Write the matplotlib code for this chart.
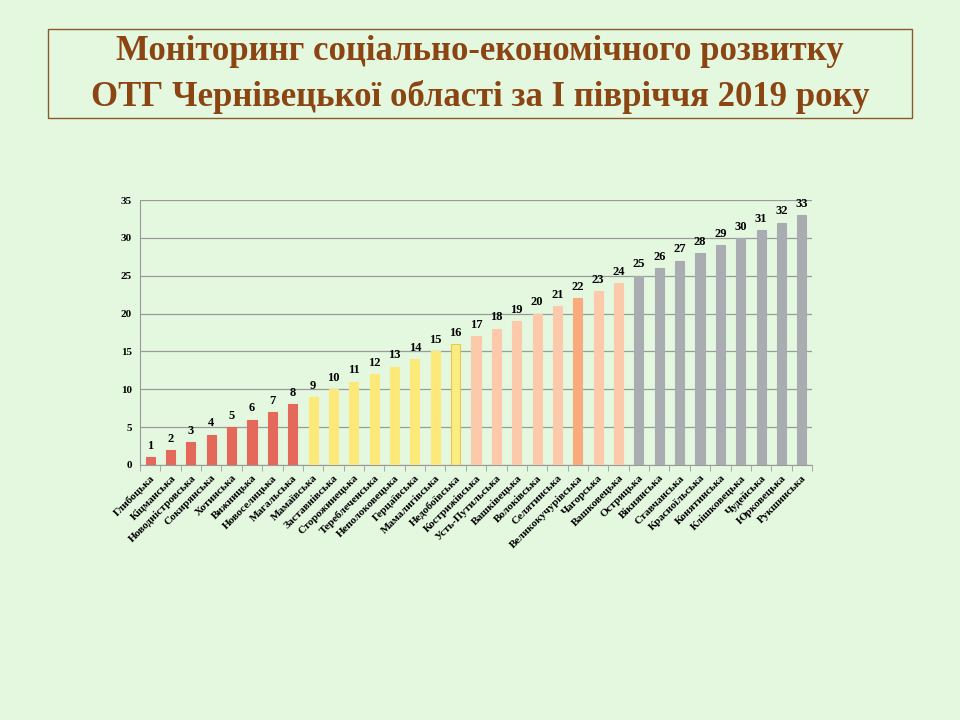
import numpy as np
import matplotlib
matplotlib.use("Agg")
import matplotlib.pyplot as plt
from matplotlib.patches import Rectangle

names = ["Глибоцька", "Кіцманська", "Новодністровська", "Сокирянська",
         "Хотинська", "Вижницька", "Новоселицька", "Магальська",
         "Мамаївська", "Заставнівська", "Сторожинецька", "Тереблеченська",
         "Неполоковецька", "Герцаївська", "Мамалигівська", "Недобоївська",
         "Кострижівська", "Усть-Путильська", "Вашківецька", "Волоківська",
         "Селятинська", "Великокучурівська", "Чагорська", "Вашковецька",
         "Острицька", "Вікнянська", "Ставчанська", "Красноїльська",
         "Конятинська", "Клішковецька", "Чудейська", "Юрковецька",
         "Рукшинська"]
ranks = [1, 2, 3, 4, 5, 6, 7, 8, 9, 10, 11, 12, 13, 14, 15, 16, 17,
         18, 19, 20, 21, 22, 23, 24, 25, 26, 27, 28, 29, 30, 31, 32, 33]
# colour group per bar
groups = ["r"] * 8 + ["y"] * 7 + ["y2"] + ["p"] * 5 + ["o"] + ["p"] * 2 + ["g"] * 9

palette = {"r": "#E5695A", "y": "#FCE97A", "y2": "#FBEC82", "p": "#FCCAAA",
           "o": "#F9AB7E", "g": "#A9ACB0"}
edges = {"y2": "#E8C94E"}

bg = "#E4F8E0"
plt.rcParams['font.family'] = ['Liberation Serif', 'DejaVu Serif']

fig = plt.figure(figsize=(9.6, 7.2), dpi=100, facecolor=bg)

# title box
fig.patches.append(Rectangle((48 / 960, 1 - 118 / 720), 864 / 960, 89 / 720,
                             transform=fig.transFigure, fill=False,
                             edgecolor="#8B5A2B", linewidth=1.0))
fig.text(0.5, 1 - 52 / 720, "Моніторинг соціально-економічного розвитку",
         ha="center", va="center", fontsize=25, fontweight="bold", color="#8B4513")
fig.text(0.5, 1 - 97 / 720, "ОТГ Чернівецької області за І півріччя 2019 року",
         ha="center", va="center", fontsize=25, fontweight="bold", color="#8B4513")

ax = fig.add_axes([140 / 960, 1 - 465 / 720, 672 / 960, 265 / 720])
ax.set_facecolor(bg)

x = np.arange(len(names))
cols = [palette[g] for g in groups]
ecs = [edges.get(g, palette[g]) for g in groups]
ax.bar(x, ranks, width=0.45, color=cols, edgecolor=ecs, linewidth=0.8, zorder=3)

for xi, v in zip(x, ranks):
    ax.text(xi, v + 0.7, str(v), ha="center", va="bottom", fontsize=9,
            fontweight="bold")

ax.set_xlim(-0.5, len(names) - 0.5)
ax.set_ylim(0, 35)
ax.set_yticks(range(0, 36, 5))
ax.grid(axis="y", color="#9A9A9A", linewidth=0.9, zorder=0)
ax.tick_params(axis="y", length=0, labelsize=8, pad=6)
for lab in ax.get_yticklabels():
    lab.set_fontweight("bold")

ax.set_xticks(x)
ax.set_xticklabels(names, rotation=45, ha="right", rotation_mode="anchor",
                   fontsize=8, fontweight="bold")
ax.tick_params(axis="x", which="major", length=0, pad=6)
ax.set_xticks(np.arange(-0.5, len(names), 1), minor=True)
ax.tick_params(axis="x", which="minor", length=4, color="#9A9A9A", direction="out")

for s in ["top", "right"]:
    ax.spines[s].set_visible(False)
for s in ["left", "bottom"]:
    ax.spines[s].set_color("#9A9A9A")

fig.savefig("out.png", dpi=100, facecolor=bg)
